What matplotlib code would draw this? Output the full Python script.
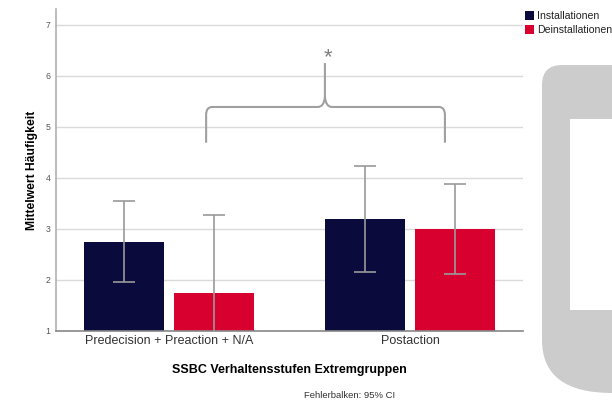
import matplotlib
matplotlib.use("Agg")
import matplotlib.pyplot as plt
import numpy as np
from matplotlib.path import Path
from matplotlib.patches import PathPatch, Rectangle

plt.rcParams['font.family'] = ['Liberation Sans', 'DejaVu Sans']

# ---- data ----
categories = ["Predecision + Preaction + N/A", "Postaction"]
series_names = ["Installationen", "Deinstallationen"]
means_install = [2.75, 3.20]
means_deinstall = [1.75, 3.00]
ci_low_install = [1.96, 2.16]
ci_high_install = [3.55, 4.24]
ci_low_deinstall = [0.22, 2.12]
ci_high_deinstall = [3.28, 3.88]
yticks = [1, 2, 3, 4, 5, 6, 7]
# significance brace (data coords)
brace_left, brace_right, brace_center = 0.154, 1.145, 0.647
brace_foot, brace_base, brace_peak = 4.69, 5.39, 6.25
star_y = 6.35

colors = ["#0a0a3c", "#d7002f"]
err_color = "#9a9a9a"

W, H = 612, 401
fig = plt.figure(figsize=(W / 100, H / 100), dpi=100)

# background decoration (phone-like gray shape on the right)
bg = fig.add_axes([0, 0, 1, 1], zorder=0)
bg.set_xlim(0, W)
bg.set_ylim(H, 0)
bg.axis("off")
verts = [(620, 65), (562, 65), (542, 65), (542, 85), (542, 340),
         (542, 393), (612, 393), (620, 393), (620, 65)]
codes = [Path.MOVETO, Path.LINETO, Path.CURVE3, Path.CURVE3, Path.LINETO,
         Path.CURVE3, Path.CURVE3, Path.LINETO, Path.CLOSEPOLY]
bg.add_patch(PathPatch(Path(verts, codes), facecolor="#cccccc", edgecolor="none"))
bg.add_patch(Rectangle((570, 119), 50, 191, facecolor="white", edgecolor="none"))

ax = fig.add_axes([56 / W, 1 - 331 / H, (523 - 56) / W, (331 - 9) / H], zorder=1)
ax.patch.set_alpha(0)

x = np.arange(len(categories))
off = 0.187
bw = 0.332
ax.bar(x - off, means_install, bw, color=colors[0], zorder=2, bottom=0)
ax.bar(x + off, means_deinstall, bw, color=colors[1], zorder=2, bottom=0)

mi = np.array(means_install); md = np.array(means_deinstall)
ax.errorbar(x - off, mi, yerr=[mi - np.array(ci_low_install), np.array(ci_high_install) - mi],
            fmt="none", ecolor=err_color, elinewidth=1.2, capsize=7.9, capthick=1.2, zorder=3)
ax.errorbar(x + off, md, yerr=[md - np.array(ci_low_deinstall), np.array(ci_high_deinstall) - md],
            fmt="none", ecolor=err_color, elinewidth=1.2, capsize=7.9, capthick=1.2, zorder=3)

ax.set_xlim(-0.469, 1.469)
ax.set_ylim(1, 7.31)
ax.set_yticks(yticks)
ax.set_yticklabels([str(t) for t in yticks], fontsize=6.3, color="#555555")
ax.set_xticks(x)
ax.set_xticklabels(categories, fontsize=9, color="#333333")
ax.tick_params(axis="both", length=0, pad=3)
ax.tick_params(axis="y", pad=4)
ax.grid(axis="y", color="#dadada", linewidth=1, zorder=0)
ax.set_axisbelow(True)
for s in ["top", "right"]:
    ax.spines[s].set_visible(False)
ax.spines["left"].set_color("#b0b0b0")
ax.spines["bottom"].set_color("#888888")
ax.spines["left"].set_linewidth(1.2)
ax.spines["bottom"].set_linewidth(1.2)

ax.set_xlabel("SSBC Verhaltensstufen Extremgruppen", fontsize=9, fontweight="bold", labelpad=12)
ax.set_ylabel("Mittelwert Häufigkeit", fontsize=8.7, fontweight="bold", labelpad=5)

# brace
sx = 1 / 241.0
sy = 1 / 51.0
bl, br, bc = brace_left, brace_right, brace_center
bv = [(bl, brace_foot), (bl, brace_base - 8 * sy), (bl, brace_base), (bl + 6 * sx, brace_base),
      (bc - 7 * sx, brace_base), (bc - 1 * sx, brace_base), (bc, brace_base + 10 * sy),
      (bc, brace_peak),
      (bc, brace_base + 10 * sy), (bc + 1 * sx, brace_base), (bc + 7 * sx, brace_base),
      (br - 6 * sx, brace_base), (br, brace_base), (br, brace_base - 8 * sy), (br, brace_foot)]
bcodes = [Path.MOVETO, Path.LINETO, Path.CURVE3, Path.CURVE3,
          Path.LINETO, Path.CURVE3, Path.CURVE3,
          Path.LINETO,
          Path.MOVETO, Path.CURVE3, Path.CURVE3,
          Path.LINETO, Path.CURVE3, Path.CURVE3, Path.LINETO]
ax.add_patch(PathPatch(Path(bv, bcodes), facecolor="none", edgecolor="#a0a0a0", linewidth=1.5,
                       zorder=4, clip_on=False))
ax.text(bc + 0.012, star_y, "*", ha="center", va="center", fontsize=16, color="#808080")

# legend
for i, (name, c) in enumerate(zip(series_names, colors)):
    yy = 11 + i * 14
    bg.add_patch(Rectangle((525, yy), 9, 9, facecolor=c, edgecolor="none"))
    bg.text(537, yy + 4.8, name, fontsize=7.6, va="center", ha="left", color="#222222")

fig.text(350 / W, 1 - 395 / H, "Fehlerbalken: 95% CI", fontsize=6.8, ha="center", va="center",
         color="#333333")

fig.savefig("out.png", dpi=100)
